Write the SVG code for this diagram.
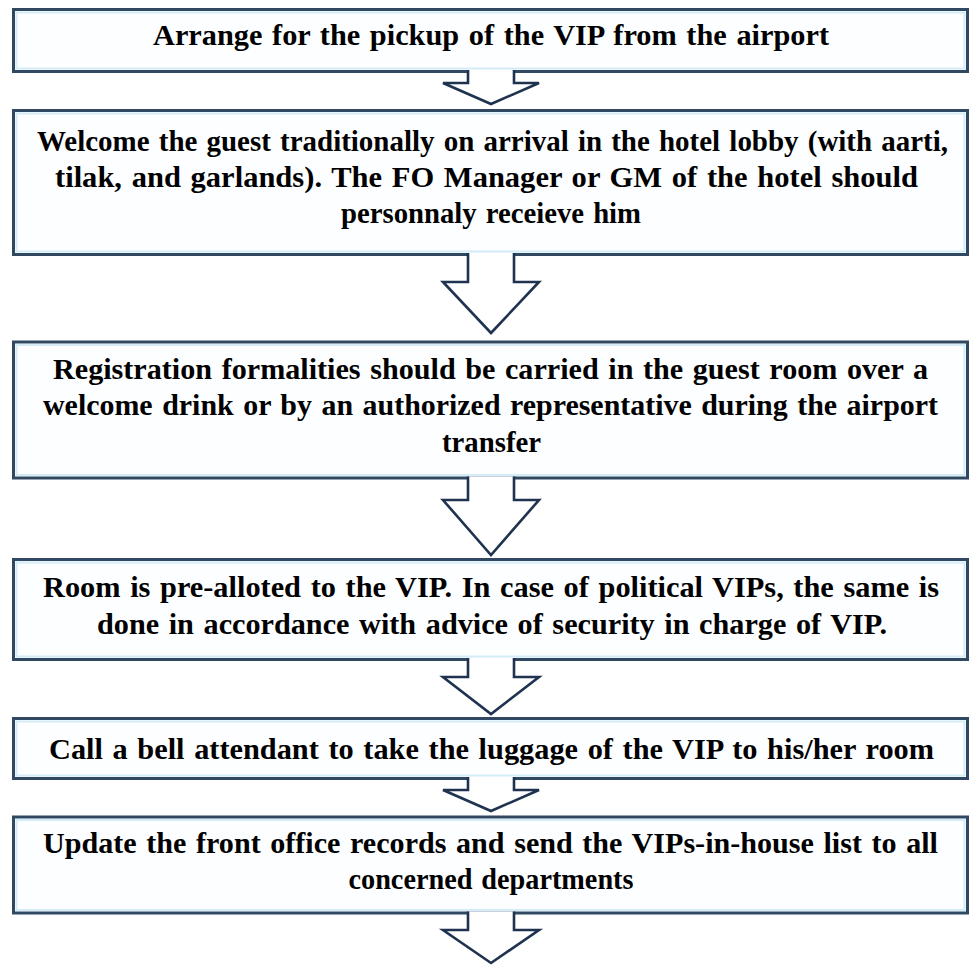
<svg xmlns="http://www.w3.org/2000/svg" width="971" height="966" viewBox="0 0 971 966">
  <style>
    .box { fill: #fdfeff; stroke: #314862; stroke-width: 3; }
    .glow { fill: none; stroke: #d4ecf8; stroke-width: 2; }
    .arrow { fill: #ffffff; stroke: #1f3350; stroke-width: 2.6; stroke-linejoin: miter; }
    .t { font-family: "Liberation Serif", "Times New Roman", serif; font-weight: bold; font-size: 29.5px; word-spacing: 2px; fill: #000; text-anchor: middle; }
  </style>
  <rect width="971" height="966" fill="#ffffff"/>

  <!-- process steps -->
  <g id="step1">
    <rect class="box" x="13.5" y="9.5" width="954" height="62"/>
    <rect class="glow" x="16.5" y="12.5" width="948" height="56"/>
    <text class="t" x="491" y="45" textLength="676" lengthAdjust="spacingAndGlyphs">Arrange for the pickup of the VIP from the airport</text>
  </g>

  <g id="step2">
    <rect class="box" x="13.5" y="110.5" width="954" height="144"/>
    <rect class="glow" x="16.5" y="113.5" width="948" height="138"/>
    <text class="t" x="492.5" y="151" textLength="911" lengthAdjust="spacingAndGlyphs">Welcome the guest traditionally on arrival in the hotel lobby (with aarti,</text>
    <text class="t" x="486.5" y="187" textLength="863" lengthAdjust="spacingAndGlyphs">tilak, and garlands). The FO Manager or GM of the hotel should</text>
    <text class="t" x="491" y="223" textLength="300" lengthAdjust="spacingAndGlyphs">personnaly receieve him</text>
  </g>

  <g id="step3">
    <rect class="box" x="13.5" y="342" width="954" height="136"/>
    <rect class="glow" x="16.5" y="345" width="948" height="130"/>
    <text class="t" x="490.5" y="379" textLength="875" lengthAdjust="spacingAndGlyphs">Registration formalities should be carried in the guest room over a</text>
    <text class="t" x="490.5" y="415" textLength="895" lengthAdjust="spacingAndGlyphs">welcome drink or by an authorized representative during the airport</text>
    <text class="t" x="491.5" y="452" textLength="99" lengthAdjust="spacingAndGlyphs">transfer</text>
  </g>

  <g id="step4">
    <rect class="box" x="13.5" y="559.5" width="954" height="100"/>
    <rect class="glow" x="16.5" y="562.5" width="948" height="94"/>
    <text class="t" x="491" y="597" textLength="896" lengthAdjust="spacingAndGlyphs">Room is pre-alloted to the VIP. In case of political VIPs, the same is</text>
    <text class="t" x="492" y="634" textLength="790" lengthAdjust="spacingAndGlyphs">done in accordance with advice of security in charge of VIP.</text>
  </g>

  <g id="step5">
    <rect class="box" x="13.5" y="718.5" width="954" height="60"/>
    <rect class="glow" x="16.5" y="721.5" width="948" height="54"/>
    <text class="t" x="491.5" y="759" textLength="885" lengthAdjust="spacingAndGlyphs">Call a bell attendant to take the luggage of the VIP to his/her room</text>
  </g>

  <g id="step6">
    <rect class="box" x="13.5" y="817" width="954" height="96"/>
    <rect class="glow" x="16.5" y="820" width="948" height="90"/>
    <text class="t" x="490.5" y="853" textLength="895" lengthAdjust="spacingAndGlyphs">Update the front office records and send the VIPs-in-house list to all</text>
    <text class="t" x="491" y="889" textLength="285" lengthAdjust="spacingAndGlyphs">concerned departments</text>
  </g>

  <!-- block arrows between steps -->
  <g id="connectors">
    <path class="arrow" d="M468,70 V83 H443 L491,104 L539,83 H514 V70"/>
    <path class="arrow" d="M468,253 V282 H443 L491,333 L539,282 H514 V253"/>
    <path class="arrow" d="M468,476.5 V500 H443 L491,555 L539,500 H514 V476.5"/>
    <path class="arrow" d="M468,658 V677 H443 L491,714 L539,677 H514 V658"/>
    <path class="arrow" d="M468,777 V790 H443 L491,811 L539,790 H514 V777"/>
    <path class="arrow" d="M468,911.5 V930 H443 L491,963 L539,930 H514 V911.5"/>
  </g>
</svg>
